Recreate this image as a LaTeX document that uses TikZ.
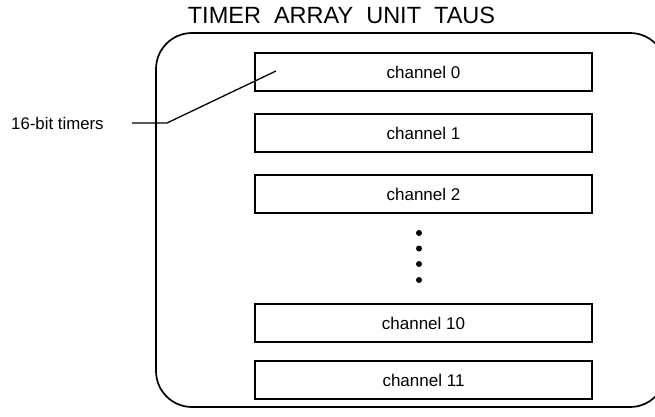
\documentclass[tikz,border=0pt]{standalone}
\usepackage{fontspec}
\setmainfont{Liberation Sans}
\begin{document}
\begin{tikzpicture}[x=1pt,y=-1pt,
  chan/.style={draw,line width=1.3pt,minimum width=337pt,minimum height=38pt,inner sep=0pt,font=\fontsize{17}{20}\selectfont},
  dotn/.style={circle,fill=black,inner sep=0pt,minimum size=6pt},
  lead/.style={line width=1.3pt}]
\useasboundingbox (0,0) rectangle (655,417);
\node[draw,line width=1.7pt,rounded corners=36pt,minimum width=510pt,minimum height=374pt,inner sep=0pt] (tau) at (411,220) {};
\node[font=\fontsize{23.5}{26}\selectfont] (title) at (341.5,15) {TIMER\ \ ARRAY\ \ UNIT\ \ TAUS};
\node[chan] (c0) at (423.5,72) {channel 0};
\node[chan] (c1) at (423.5,133) {channel 1};
\node[chan] (c2) at (423.5,194) {channel 2};
\node[chan] (c10) at (423.5,323) {channel 10};
\node[chan] (c11) at (423.5,380) {channel 11};
\node[dotn] (d1) at (419,233) {};
\node[dotn] (d2) at (419,248.5) {};
\node[dotn] (d3) at (419,264) {};
\node[dotn] (d4) at (419,280) {};
\node[font=\fontsize{16.8}{19}\selectfont,anchor=west,inner sep=0pt] (lbl) at (11,123) {16-bit timers};
\coordinate (l1) at (132,123);
\coordinate (l2) at (167,123);
\coordinate (l3) at (276,71);
\draw[lead] (l1) -- (l2) -- (l3);
\end{tikzpicture}
\end{document}
